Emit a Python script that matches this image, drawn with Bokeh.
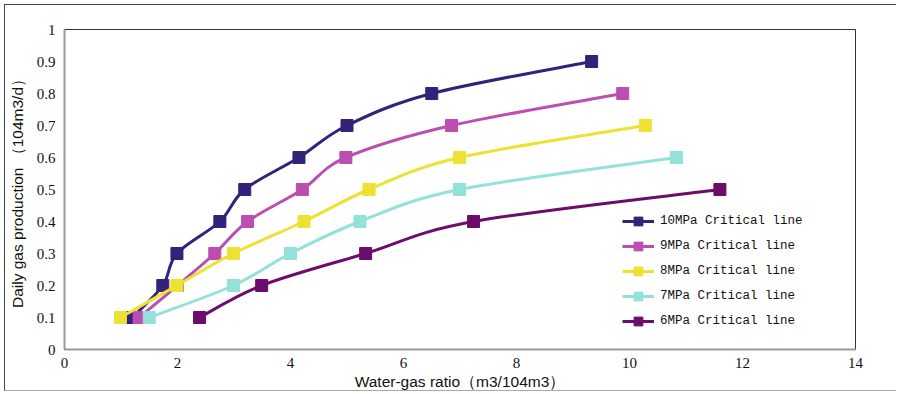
from bokeh.plotting import figure
from bokeh.models import FixedTicker, Legend, LegendItem, ColumnDataSource
from bokeh.embed import file_html
from bokeh.resources import INLINE

# ---- data ----
x_10 = [1.20, 1.74, 1.99, 2.75, 3.19, 4.15, 5.00, 6.50, 9.33]
y_10 = [0.1, 0.2, 0.3, 0.4, 0.5, 0.6, 0.7, 0.8, 0.9]
x_9 = [1.32, 2.00, 2.66, 3.24, 4.21, 4.98, 6.85, 9.88]
y_9 = [0.1, 0.2, 0.3, 0.4, 0.5, 0.6, 0.7, 0.8]
x_8 = [0.99, 1.99, 2.99, 4.24, 5.39, 6.99, 10.28]
y_8 = [0.1, 0.2, 0.3, 0.4, 0.5, 0.6, 0.7]
x_7 = [1.50, 2.99, 4.00, 5.23, 6.99, 10.83]
y_7 = [0.1, 0.2, 0.3, 0.4, 0.5, 0.6]
x_6 = [2.39, 3.49, 5.33, 7.24, 11.60]
y_6 = [0.1, 0.2, 0.3, 0.4, 0.5]

series_names = ["10MPa Critical line", "9MPa Critical line", "8MPa Critical line",
                "7MPa Critical line", "6MPa Critical line"]
series_x = [x_10, x_9, x_8, x_7, x_6]
series_y = [y_10, y_9, y_8, y_7, y_6]
colors = ["#33217A", "#BC4EB2", "#EDE131", "#92E2DA", "#6C0C6C"]

x_ticks = [0, 2, 4, 6, 8, 10, 12, 14]
y_ticks = [0, 0.1, 0.2, 0.3, 0.4, 0.5, 0.6, 0.7, 0.8, 0.9, 1.0]
y_tick_labels = ["0", "0.1", "0.2", "0.3", "0.4", "0.5", "0.6", "0.7", "0.8", "0.9", "1"]


def smooth_segments(xs, ys):
    """Catmull-Rom -> cubic bezier control points (rendering of a smoothed line)."""
    n = len(xs)
    d = dict(x0=[], y0=[], x1=[], y1=[], cx0=[], cy0=[], cx1=[], cy1=[])
    for i in range(n - 1):
        p0 = (xs[max(i - 1, 0)], ys[max(i - 1, 0)])
        p1 = (xs[i], ys[i])
        p2 = (xs[i + 1], ys[i + 1])
        p3 = (xs[min(i + 2, n - 1)], ys[min(i + 2, n - 1)])
        d["x0"].append(p1[0]); d["y0"].append(p1[1])
        d["x1"].append(p2[0]); d["y1"].append(p2[1])
        d["cx0"].append(p1[0] + (p2[0] - p0[0]) / 6.0)
        d["cy0"].append(p1[1] + (p2[1] - p0[1]) / 6.0)
        d["cx1"].append(p2[0] - (p3[0] - p1[0]) / 6.0)
        d["cy1"].append(p2[1] - (p3[1] - p1[1]) / 6.0)
    return d


p = figure(width=892, height=387, x_range=(0, 14), y_range=(0, 1),
           output_backend="svg", toolbar_location=None,
           min_border_left=58, min_border_top=24, min_border_right=42, min_border_bottom=38)
p.styles = {"margin-left": "4px", "margin-top": "4px",
            "border-left": "1px solid #444", "border-top": "1px solid #444",
            "border-bottom": "1px solid #aaa"}

p.xgrid.visible = False
p.ygrid.visible = False
p.outline_line_color = "#333333"
p.outline_line_width = 1

for ax in (p.xaxis[0], p.yaxis[0]):
    ax.axis_line_color = "#9a9a9a"
    ax.axis_line_width = 2
    ax.major_tick_line_color = None
    ax.minor_tick_line_color = None
    ax.major_label_text_font = "Liberation Serif"
    ax.major_label_text_font_size = "15px"
    ax.major_label_text_color = "#111111"
    ax.axis_label_text_font = "Liberation Sans"
    ax.axis_label_text_font_size = "15.5px"
    ax.axis_label_text_font_style = "normal"
    ax.axis_label_text_color = "#111111"

p.xaxis[0].ticker = FixedTicker(ticks=x_ticks)
p.yaxis[0].ticker = FixedTicker(ticks=y_ticks)
p.yaxis[0].major_label_overrides = {t: l for t, l in zip(y_ticks, y_tick_labels)}
p.xaxis[0].major_label_standoff = 2
p.yaxis[0].major_label_standoff = 3
p.xaxis[0].axis_label = "Water-gas ratio（m3/104m3）"
p.yaxis[0].axis_label = "Daily gas production （104m3/d）"
p.xaxis[0].axis_label_standoff = 2
p.yaxis[0].axis_label_standoff = 8

items = []
for name, xs, ys, c in zip(series_names, series_x, series_y, colors):
    seg = ColumnDataSource(smooth_segments(xs, ys))
    r_line = p.bezier(x0="x0", y0="y0", x1="x1", y1="y1", cx0="cx0", cy0="cy0",
                      cx1="cx1", cy1="cy1", source=seg, line_color=c, line_width=3)
    r_pts = p.scatter(xs, ys, marker="square", size=12, fill_color=c, line_color=c)
    items.append(LegendItem(label=name, renderers=[r_line, r_pts]))

legend = Legend(items=items, location=(558, 17), padding=0, margin=0, spacing=3,
                glyph_width=32, glyph_height=22, label_height=22, label_standoff=6,
                label_text_font="Liberation Mono", label_text_font_size="12.5px",
                label_text_color="#111111", background_fill_alpha=0,
                border_line_color=None)
p.add_layout(legend, "center")

open("out.html", "w").write(file_html(p, INLINE))
